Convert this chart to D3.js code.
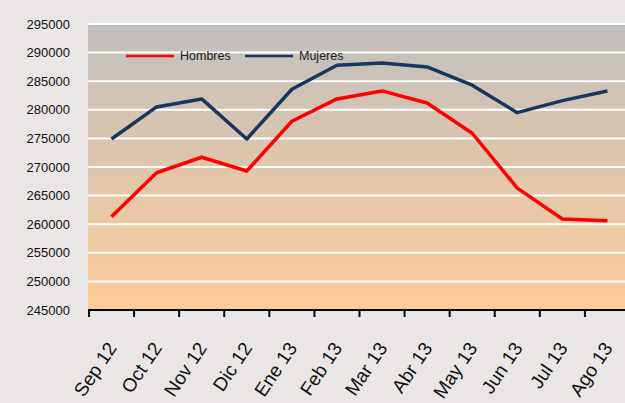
<!DOCTYPE html>
<html>
<head>
<meta charset="utf-8">
<script src="https://cdn.jsdelivr.net/npm/d3@7"></script>
<style>
  body { margin: 0; background: #ebe6e6; }
  svg { display: block; font-family: Arial, "Liberation Sans", sans-serif; }
</style>
</head>
<body>
<svg width="625" height="403"></svg>
<script>
// Months on the x axis
const months = ["Sep 12", "Oct 12", "Nov 12", "Dic 12", "Ene 13", "Feb 13",
  "Mar 13", "Abr 13", "May 13", "Jun 13", "Jul 13", "Ago 13"];

// Series values
const hombres = [261300, 269000, 271700, 269300, 278000, 281900,
  283300, 281200, 275900, 266300, 260900, 260600];
const mujeres = [274900, 280500, 281900, 274900, 283600, 287800,
  288200, 287500, 284300, 279500, 281600, 283300];

const yTicks = [245000, 250000, 255000, 260000, 265000, 270000,
  275000, 280000, 285000, 290000, 295000];

const series = [
  { name: "Hombres", values: hombres, color: "#ff0000" },
  { name: "Mujeres", values: mujeres, color: "#17375e" }
];

const plotLeft = 88, plotRight = 630, plotTop = 24, plotBottom = 310;

const svg = d3.select("svg");

// Gradient fill for the plot area.
const grad = svg.append("defs").append("linearGradient")
  .attr("id", "bg").attr("x1", 0).attr("y1", 0).attr("x2", 0).attr("y2", 1);
grad.append("stop").attr("offset", "0%").attr("stop-color", "#c0c0c0");
grad.append("stop").attr("offset", "100%").attr("stop-color", "#fecc98");

const x = d3.scaleBand().domain(months).range([plotLeft + 1, plotRight]);
const y = d3.scaleLinear().domain([245000, 295000]).range([plotBottom, plotTop]);

svg.append("rect")
  .attr("x", plotLeft).attr("y", plotTop)
  .attr("width", plotRight - plotLeft).attr("height", plotBottom - plotTop)
  .attr("fill", "url(#bg)");

// White gridlines
svg.append("g").selectAll("line")
  .data(yTicks.filter(d => d > 245000))
  .join("line")
  .attr("x1", plotLeft).attr("x2", plotRight)
  .attr("y1", d => y(d)).attr("y2", d => y(d))
  .attr("stroke", "#fff").attr("stroke-width", 2);

// Y labels
svg.append("g").selectAll("text")
  .data(yTicks)
  .join("text")
  .attr("x", 70).attr("y", d => y(d))
  .attr("dy", "0.35em")
  .attr("text-anchor", "end")
  .attr("font-size", 13)
  .attr("fill", "#111")
  .text(d => d);

// X axis
const xAxis = svg.append("g")
  .attr("transform", `translate(0,${plotBottom})`);
xAxis.append("line")
  .attr("x1", plotLeft).attr("x2", plotRight)
  .attr("stroke", "#000").attr("stroke-width", 2);
xAxis.selectAll(".tick")
  .data(months)
  .join("line")
  .attr("class", "tick")
  .attr("x1", d => x(d)).attr("x2", d => x(d))
  .attr("y1", 0).attr("y2", 7)
  .attr("stroke", "#000").attr("stroke-width", 2);
xAxis.selectAll("text")
  .data(months)
  .join("text")
  .attr("transform", d => `translate(${x(d) + x.bandwidth() / 2 + 6},${38}) rotate(-56)`)
  .attr("text-anchor", "end")
  .attr("font-size", 19)
  .attr("fill", "#111")
  .text(d => d);

// Lines
const line = d3.line()
  .x((d, i) => x(months[i]) + x.bandwidth() / 2)
  .y(d => y(d));

svg.append("g").selectAll("path")
  .data(series)
  .join("path")
  .attr("d", d => line(d.values))
  .attr("fill", "none")
  .attr("stroke", d => d.color)
  .attr("stroke-width", 3.5)
  .attr("stroke-linejoin", "round");

// Legend
const legend = svg.append("g").selectAll("g")
  .data(series)
  .join("g")
  .attr("transform", (d, i) => `translate(${126 + i * 119},56)`);
legend.append("line")
  .attr("x1", 0).attr("x2", 48)
  .attr("stroke", d => d.color).attr("stroke-width", 2.5);
legend.append("text")
  .attr("x", 54).attr("dy", "0.35em")
  .attr("font-size", 12.5)
  .attr("fill", "#222")
  .text(d => d.name);
</script>
</body>
</html>
